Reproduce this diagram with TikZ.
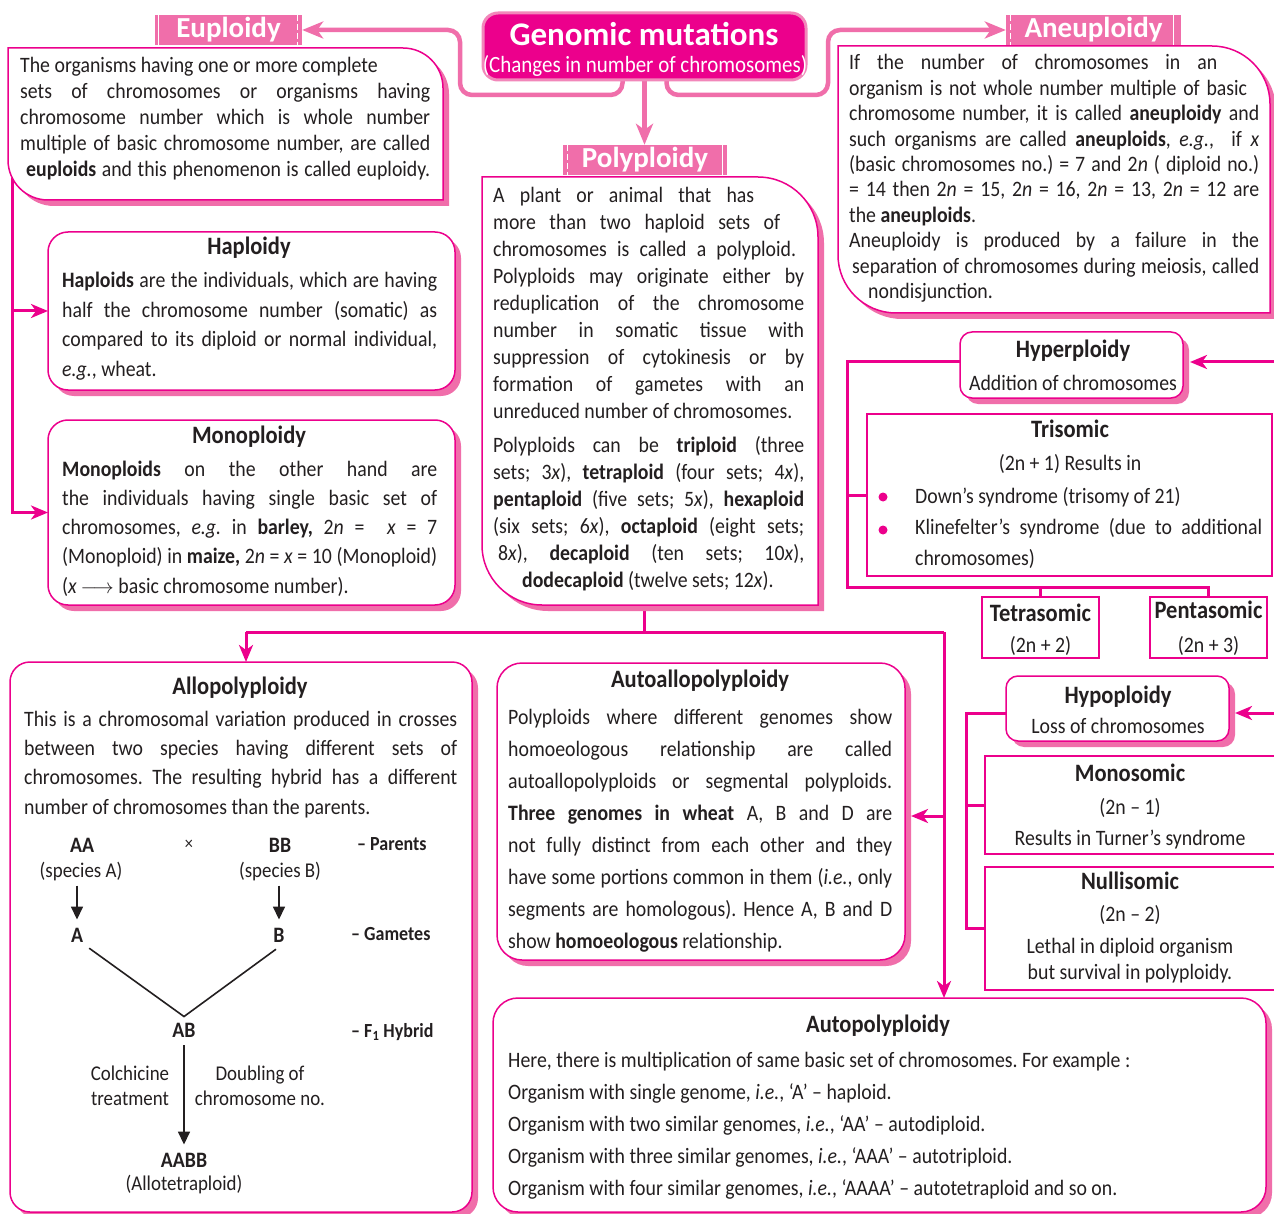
\documentclass[tikz,border=0pt]{standalone}
\usepackage{fontspec}
\setmainfont{Carlito}[FakeStretch=0.9]
\newfontfamily\headfont{Carlito}
\usetikzlibrary{arrows.meta,shadows}
\definecolor{mag}{HTML}{EC008C}
\definecolor{shp}{HTML}{F06EAA}
\definecolor{ttl}{HTML}{F287BA}
\definecolor{ink}{HTML}{231F20}
\pgfdeclarelayer{back}\pgfdeclarelayer{conn}\pgfsetlayers{back,conn,main}
\newcommand\fs[1]{\fontsize{22}{#1}\selectfont}
\newcommand\jl[1]{\hbox to\linewidth{\strut#1}}
\newcommand\rl[1]{\hbox to\linewidth{\strut#1\hfil}}
\newcommand\jw[2]{\hbox to\linewidth{\hbox to#1{\strut#2}\hfil}}
\newcommand\tb[2]{\vtop{\frenchspacing\hsize=#1\linewidth=#1\relax#2}}
\newcommand\cutshape[6]{\path[#6] (#1,#2) -- ({#3-#5},#2) arc[start angle=270,end angle=360,radius=#5] -- (#3,#4) -- ({#1+#5},#4) arc[start angle=90,end angle=180,radius=#5] -- cycle;}
\begin{document}
\begin{tikzpicture}[x=1pt,y=-1pt,
  txt/.style={inner sep=0pt, text=ink},
  hd/.style={inner sep=0pt, text=ink, font=\fontsize{25}{28}\selectfont\bfseries, anchor=base},
  sub/.style={inner sep=0pt, text=ink, font=\fontsize{22}{26}\selectfont, anchor=base},
  rbox/.style={draw=mag, line width=1.5pt, fill=white, rounded corners=#1, inner sep=0pt, outer sep=0pt, anchor=north west, general shadow={fill=shp, shadow xshift=6pt, shadow yshift=-6pt}},
  sbox/.style={draw=mag, line width=2.5pt, fill=white, inner sep=0pt, outer sep=0pt, anchor=north west},
  ghost/.style={inner sep=0pt, outer sep=0pt, anchor=north west},
  band/.style={fill=shp, text=white, font=\headfont\bfseries\fontsize{29}{30}\selectfont, inner sep=0pt, minimum height=30pt},
  wbar/.style={draw=white, line width=1.3pt},
  pc/.style={draw=shp, line width=4.5pt, rounded corners=12pt},
  mc/.style={draw=mag, line width=3pt},
  mtip/.style={-{Stealth[length=17pt,width=14pt,inset=5pt]}},
  ptip/.style={-{Stealth[length=21pt,width=17pt,inset=6pt]}},
  blk/.style={draw=ink, line width=1.6pt},
  btip/.style={-{Triangle[length=13pt,width=12pt]}},
  dg/.style={inner sep=0pt, text=ink, anchor=base, font=\fontsize{21}{24}\selectfont},
  dgb/.style={inner sep=0pt, text=ink, anchor=base, font=\fontsize{22}{24}\selectfont\bfseries},
  dgl/.style={inner sep=0pt, text=ink, anchor=base west, font=\fontsize{20}{24}\selectfont\bfseries},
  bul/.style={circle, fill=mag, inner sep=0pt, minimum size=9pt}
]
\begin{pgfonlayer}{back}
\fill[white] (0,0) rectangle (1274,1214);
\end{pgfonlayer}
\useasboundingbox (0,0) rectangle (1274,1214);

% ---------- title ----------
\node[fill=mag, draw=ttl, line width=3pt, rounded corners=15pt, minimum width=323pt, minimum height=67pt, inner sep=0pt, outer sep=0pt, anchor=north west] (title) at (483,13) {};
\node[anchor=base, inner sep=0pt, text=white, font=\headfont\bfseries\fontsize{33}{36}\selectfont] (t1) at (644,46) {Genomic mutations};
\node[anchor=base, inner sep=0pt, text=white, font=\fontsize{23.3}{28}\selectfont] (t2) at (645,73) {(Changes in number of chromosomes)};

% ---------- Euploidy ----------
\cutshape{14}{54}{449}{206}{40}{fill=shp}
\cutshape{8}{48}{443}{200}{40}{draw=mag,line width=1.5pt,fill=white}
\node[ghost, minimum width=435pt, minimum height=152pt] (eubox) at (8,48) {};
\node[txt, anchor=base west, font=\fs{26}] (eut) at (20,73) {\tb{410pt}{%
\rl{The organisms having one or more complete}
\jl{sets of chromosomes or organisms having}
\jl{chromosome number which is whole number}
\jl{multiple of basic chromosome number, are called}
\jl{\kern6pt\textbf{euploids} and this phenomenon is called euploidy.}}};
\node[band, minimum width=147pt] (eul) at (228.5,30) {Euploidy};
\draw[wbar] ([xshift=4pt]eul.north west) -- ([xshift=4pt]eul.south west);
\draw[wbar, dash pattern=on 6pt off 3pt] ([xshift=-5pt]eul.north east) -- ([xshift=-5pt]eul.south east);

% ---------- Haploidy / Monoploidy ----------
\node[rbox=20pt, minimum width=407pt, minimum height=158pt] (hap) at (48,232) {};
\node[hd] (hapt) at (249,255) {Haploidy};
\node[txt, anchor=base west, font=\fs{29.5}] (hapb) at (62,288) {\tb{375pt}{%
\jl{\textbf{Haploids} are the individuals, which are having}
\jl{half the chromosome number (somatic) as}
\jl{compared to its diploid or normal individual,}
\rl{\textit{e.g.}, wheat.}}};

\node[rbox=20pt, minimum width=407pt, minimum height=185pt] (monop) at (48,420) {};
\node[hd] (monopt) at (249,443) {Monoploidy};
\node[txt, anchor=base west, font=\fs{29.3}] (monopb) at (62,476) {\tb{375pt}{%
\jl{\textbf{Monoploids} on the other hand are}
\jl{the individuals having single basic set of}
\jl{chromosomes, \textit{e.g.} in \textbf{barley,} 2\textit{n} =\kern12pt\ \textit{x} = 7}
\jl{(Monoploid) in \textbf{maize,} 2\textit{n} = \textit{x} = 10 (Monoploid)}
\rl{(\textit{x}\,$\longrightarrow$\ basic chromosome number).}}};

% ---------- Polyploidy ----------
\cutshape{488}{183}{824}{611}{60}{fill=shp}
\cutshape{482}{177}{818}{605}{60}{draw=mag,line width=1.5pt,fill=white}
\node[ghost, minimum width=336pt, minimum height=428pt] (poly) at (482,177) {};
\node[txt, anchor=base west, font=\fs{27}] (polyb) at (493,203) {\tb{311pt}{%
\jw{261pt}{A plant or animal that has}
\jw{287pt}{more than two haploid sets of}
\jw{303pt}{chromosomes is called a polyploid.}
\jl{Polyploids may originate either by}
\jl{reduplication of the chromosome}
\jl{number in somatic tissue with}
\jl{suppression of cytokinesis or by}
\jl{formation of gametes with an}
\rl{unreduced number of chromosomes.}
\vskip7pt
\jl{Polyploids can be \textbf{triploid} (three}
\jl{sets; 3\textit{x}), \textbf{tetraploid} (four sets; 4\textit{x}),}
\jl{\textbf{pentaploid} (five sets; 5\textit{x}), \textbf{hexaploid}}
\jl{(six sets; 6\textit{x}), \textbf{octaploid} (eight sets;}
\jl{\kern5pt 8\textit{x}), \textbf{decaploid} (ten sets; 10\textit{x}),}
\rl{\kern29pt\textbf{dodecaploid} (twelve sets; 12\textit{x}).}}};
\node[band, minimum width=164pt] (pol) at (645,160) {Polyploidy};
\draw[wbar, dash pattern=on 6pt off 3pt] ([xshift=5pt]pol.north west) -- ([xshift=5pt]pol.south west);
\draw[wbar] ([xshift=-5pt]pol.north east) -- ([xshift=-5pt]pol.south east);

% ---------- Aneuploidy ----------
\cutshape{844}{52}{1276}{319}{58}{fill=shp}
\cutshape{838}{46}{1270}{313}{58}{draw=mag,line width=1.5pt,fill=white}
\node[ghost, minimum width=432pt, minimum height=267pt] (aneu) at (838,46) {};
\node[txt, anchor=base west, font=\fs{25.4}] (aneub) at (849,70) {\tb{410pt}{%
\jw{368pt}{If the number of chromosomes in an}
\jw{398pt}{organism is not whole number multiple of basic}
\jl{chromosome number, it is called \textbf{aneuploidy} and}
\jl{such organisms are called \textbf{aneuploids}, \textit{e.g.},\ \ if \textit{x}}
\jl{(basic chromosomes no.) = 7 and 2\textit{n} ( diploid no.)}
\jl{= 14 then 2\textit{n} = 15, 2\textit{n} = 16, 2\textit{n} = 13, 2\textit{n} = 12 are}
\rl{the \textbf{aneuploids}.}
\jl{Aneuploidy is produced by a failure in the}
\jl{\kern3pt separation of chromosomes during meiosis, called}
\rl{\kern19pt nondisjunction.}}};
\node[band, minimum width=175pt] (anl) at (1093.5,30) {Aneuploidy};
\draw[wbar, dash pattern=on 6pt off 3pt] ([xshift=5pt]anl.north west) -- ([xshift=5pt]anl.south west);
\draw[wbar] ([xshift=-8pt]anl.north east) -- ([xshift=-8pt]anl.south east);

% ---------- Hyperploidy branch ----------
\node[rbox=12pt, minimum width=223pt, minimum height=66pt] (hyper) at (960,332) {};
\node[hd] (hypert) at (1073,358) {Hyperploidy};
\node[sub] (hypers) at (1073,390) {Addition of chromosomes};

\node[sbox, minimum width=405pt, minimum height=162pt] (tri) at (867,414) {};
\node[hd] (trit) at (1070,437) {Trisomic};
\node[sub] (tris) at (1070,470) {(2n + 1) Results in};
\node[bul] (b1) at (883,497) {};
\node[bul] (b2) at (883,530) {};
\node[txt, anchor=base west, font=\fs{31}] (trib) at (915,503) {\tb{347pt}{%
\rl{Down’s syndrome (trisomy of 21)}
\jl{Klinefelter’s syndrome (due to additional}
\rl{chromosomes)}}};

\node[sbox, minimum width=117pt, minimum height=61pt] (tet) at (982,597) {};
\node[hd] (tett) at (1040.5,621) {Tetrasomic};
\node[sub] (tets) at (1040.5,652) {(2n + 2)};
\node[sbox, minimum width=117pt, minimum height=61pt] (pent) at (1150,597) {};
\node[hd] (pentt) at (1208.5,618) {Pentasomic};
\node[sub] (pents) at (1208.5,652) {(2n + 3)};

% ---------- Hypoploidy branch ----------
\node[rbox=12pt, minimum width=223pt, minimum height=65pt] (hypo) at (1006,676) {};
\node[hd] (hypot) at (1118,703) {Hypoploidy};
\node[sub] (hypos) at (1118,733) {Loss of chromosomes};

\node[sbox, minimum width=300pt, minimum height=98pt] (monos) at (985,756) {};
\node[hd] (monost) at (1130,781) {Monosomic};
\node[sub] (monos1) at (1130,814) {(2n – 1)};
\node[sub] (monos2) at (1130,845) {Results in Turner’s syndrome};

\node[sbox, minimum width=300pt, minimum height=123pt] (nulls) at (985,867) {};
\node[hd] (nullst) at (1130,889) {Nullisomic};
\node[sub] (nulls1) at (1130,921) {(2n – 2)};
\node[sub] (nulls2) at (1130,953) {Lethal in diploid organism};
\node[sub] (nulls3) at (1130,979) {but survival in polyploidy.};

% ---------- Allopolyploidy ----------
\node[rbox=20pt, minimum width=462pt, minimum height=550pt] (allo) at (10,662) {};
\node[hd] (allot) at (240,694) {Allopolyploidy};
\node[txt, anchor=base west, font=\fs{29.4}] (allob) at (24,726) {\tb{433pt}{%
\jl{This is a chromosomal variation produced in crosses}
\jl{between two species having different sets of}
\jl{chromosomes. The resulting hybrid has a different}
\rl{number of chromosomes than the parents.}}};
\node[dgb] (aa2) at (82,852) {AA};
\node[dg] (spA) at (81,877) {(species A)};
\node[dg, font=\fontsize{18}{20}\selectfont] (cross) at (189,849) {×};
\node[dgb] (bb2) at (280,852) {BB};
\node[dg] (spB) at (280,877) {(species B)};
\node[dgl] (lpar) at (357,850) {– Parents};
\node[dgb] (gA) at (77,942) {A};
\node[dgb] (gB) at (279,942) {B};
\node[dgl] (lgam) at (351,940) {– Gametes};
\node[dgb] (ab) at (184,1037) {AB};
\node[dgl] (lhyb) at (351,1037) {– F\textsubscript{1} Hybrid};
\node[dg] (col1) at (130,1080) {Colchicine};
\node[dg] (col2) at (130,1105) {treatment};
\node[dg] (dbl1) at (260,1080) {Doubling of};
\node[dg] (dbl2) at (260,1105) {chromosome no.};
\node[dgb] (aabb) at (184,1167) {AABB};
\node[dg] (allot2) at (184,1190) {(Allotetraploid)};
\draw[blk,btip] ([yshift=-5pt]gA |- spA.south) -- ([yshift=8pt]gA.north);
\draw[blk,btip] ([yshift=-5pt]gB |- spB.south) -- ([yshift=8pt]gB.north);
\draw[blk] ([xshift=6pt,yshift=-6pt]gA.south east) -- ([yshift=6pt]ab.north) -- ([xshift=-3pt,yshift=-7pt]gB.south);
\draw[blk,btip] ([yshift=-8pt]ab.south) -- ([yshift=8pt]aabb.north);

% ---------- Autoallopolyploidy ----------
\node[rbox=25pt, minimum width=408pt, minimum height=297pt] (aa) at (497,663) {};
\node[hd] (aat) at (700,687) {Autoallopolyploidy};
\node[txt, anchor=base west, font=\fs{32}] (aab) at (508,724) {\tb{384pt}{%
\jl{Polyploids where different genomes show}
\jl{homoeologous relationship are called}
\jl{autoallopolyploids or segmental polyploids.}
\jl{\textbf{Three genomes in wheat} A, B and D are}
\jl{not fully distinct from each other and they}
\jl{have some portions common in them (\textit{i.e.}, only}
\jl{segments are homologous). Hence A, B and D}
\rl{show \textbf{homoeologous} relationship.}}};

% ---------- Autopolyploidy ----------
\node[rbox=25pt, minimum width=773pt, minimum height=214pt] (auto) at (493,998) {};
\node[hd] (autot) at (878,1032) {Autopolyploidy};
\node[txt, anchor=base west, font=\fs{32}] (autob) at (508,1067) {\tb{740pt}{%
\rl{Here, there is multiplication of same basic set of chromosomes. For example :}
\rl{Organism with single genome, \textit{i.e.}, ‘A’ – haploid.}
\rl{Organism with two similar genomes, \textit{i.e.}, ‘AA’ – autodiploid.}
\rl{Organism with three similar genomes, \textit{i.e.}, ‘AAA’ – autotriploid.}
\rl{Organism with four similar genomes, \textit{i.e.}, ‘AAAA’ – autotetraploid and so on.}}};

% ---------- connectors ----------
\begin{pgfonlayer}{conn}
\coordinate (lk) at (460,95);
\coordinate (rk) at (828,95);
\draw[pc,ptip] ([xshift=-22pt]title.south) |- (lk) |- (eul.east);
\draw[pc,ptip] ([xshift=22pt]title.south) |- (rk) |- (anl.west);
\draw[pc,ptip] (title.south) -- (title.south |- pol.north);

\coordinate (eu0) at (12,178);
\draw[mc,mtip] (eu0) |- (hap.west);
\draw[mc,mtip] (eu0) |- (monop.west);

\coordinate (hyin) at (1276,362);
\draw[mc,mtip,shorten >=7pt] (hyin) -- (hyin -| hyper.east);
\coordinate (hl) at (847,587);
\draw[mc] (hyin -| hyper.west) -| (hl) -| (pent.north);
\draw[mc] (tri.west) -- (tri.west -| hl);
\draw[mc] (tet.north) -- (tet.north |- hl);

\coordinate (hoin) at (1276,713);
\draw[mc,mtip,shorten >=6pt] (hoin) -- (hoin -| hypo.east);
\coordinate (hl2) at (966,928.5);
\draw[mc] (hoin -| hypo.west) -| (hl2) -- (hl2 -| nulls.west);
\draw[mc] (monos.west) -- (monos.west -| hl2);

\coordinate (pj) at (644,632);
\coordinate (pl) at (246,632);
\coordinate (pr) at (944,632);
\coordinate (pa) at (944,816);
\draw[mc] (pj |- poly.south) -- (pj);
\draw[mc] (pl) -- (pr);
\draw[mc,mtip] (pl) -- (pl |- allo.north);
\draw[mc,mtip] (pr) -- (pr |- auto.north);
\draw[mc,mtip,shorten >=6pt] (pa) -- (pa -| aa.east);
\end{pgfonlayer}
\end{tikzpicture}
\end{document}
